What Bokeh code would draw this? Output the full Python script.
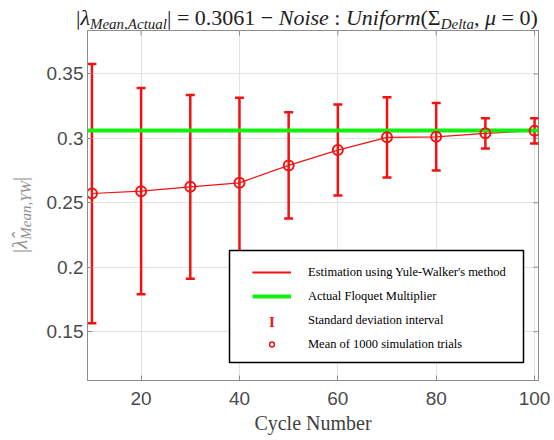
import math
from bokeh.plotting import figure
from bokeh.models import (Label, Legend, LegendItem, BoxAnnotation, FixedTicker,
                          NumeralTickFormatter, Range1d, ColumnDataSource, Div)
from bokeh.layouts import column, row
from bokeh.embed import file_html
from bokeh.resources import INLINE

# ---------------- data ----------------
cycles = [10, 20, 30, 40, 50, 60, 70, 80, 90, 100]
mean_est = [0.2572, 0.2590, 0.2624, 0.2655, 0.2790, 0.2909, 0.3008, 0.3012, 0.3039, 0.3059]
std_dev = [0.1006, 0.0800, 0.0713, 0.0661, 0.0412, 0.0353, 0.0311, 0.0262, 0.0118, 0.0098]
actual_multiplier = 0.3061

x_ticks = [20, 40, 60, 80, 100]
y_ticks = [0.15, 0.2, 0.25, 0.3, 0.35]
X_MIN, X_MAX = 9.1, 100.8
Y_MIN, Y_MAX = 0.1121, 0.3837

legend_labels = ["Estimation using Yule-Walker's method", "Actual Floquet Multiplier",
                 "Standard deviation interval", "Mean of 1000 simulation trials"]

RED = "#f21212"
GREEN = "#12f012"
AXIS_GRAY = "#8c8c8c"
TICK_TEXT = "#4a4a4a"

upper = [m + s for m, s in zip(mean_est, std_dev)]
lower = [m - s for m, s in zip(mean_est, std_dev)]
src = ColumnDataSource(dict(x=cycles, mean=mean_est, upper=upper, lower=lower))

# ---------------- layout sizes ----------------
TOTAL_W, TOTAL_H = 554, 440
TITLE_H = 29
YLAB_W = 40
FRAME_W, FRAME_H = 451, 350
PLOT_W = TOTAL_W - YLAB_W
PLOT_H = TOTAL_H - TITLE_H

p = figure(width=PLOT_W, height=PLOT_H, output_backend="svg", toolbar_location=None,
           x_range=Range1d(X_MIN, X_MAX), y_range=Range1d(Y_MIN, Y_MAX),
           min_border_left=47, min_border_right=16, min_border_top=1, min_border_bottom=60,
           title=None, background_fill_color="white", border_fill_color="white",
           outline_line_color=AXIS_GRAY, outline_line_width=1)

xt = FixedTicker(ticks=x_ticks, minor_ticks=[])
yt = FixedTicker(ticks=y_ticks, minor_ticks=[])

for ax, tk in ((p.xaxis[0], xt), (p.yaxis[0], yt)):
    ax.ticker = tk
    ax.axis_line_color = AXIS_GRAY
    ax.major_tick_line_color = AXIS_GRAY
    ax.major_tick_in = 5
    ax.major_tick_out = 0
    ax.minor_tick_line_color = None
    ax.major_label_text_font = "Liberation Sans"
    ax.major_label_text_font_size = "19px"
    ax.major_label_text_color = TICK_TEXT

p.yaxis[0].formatter = NumeralTickFormatter(format="0.[00]")
p.yaxis[0].major_label_standoff = 4
p.xaxis[0].major_label_standoff = 11
p.xaxis[0].axis_label = "Cycle Number"
p.xaxis[0].axis_label_text_font = "Liberation Serif"
p.xaxis[0].axis_label_text_font_size = "20px"
p.xaxis[0].axis_label_text_font_style = "normal"
p.xaxis[0].axis_label_text_color = "#404040"
p.xaxis[0].axis_label_standoff = 4

p.xgrid.ticker = xt
p.ygrid.ticker = yt
p.grid.grid_line_color = "#e3e3e3"
p.grid.grid_line_width = 1

# inward ticks on the top and right edges of the box (derived from tick lists / limits)
TICK_PX = 5
x_per_px = (X_MAX - X_MIN) / FRAME_W
y_per_px = (Y_MAX - Y_MIN) / FRAME_H
p.segment(x0=x_ticks, y0=[Y_MAX] * len(x_ticks), x1=x_ticks,
          y1=[Y_MAX - TICK_PX * y_per_px] * len(x_ticks), line_color=AXIS_GRAY, line_width=1)
p.segment(x0=[X_MAX] * len(y_ticks), y0=y_ticks, x1=[X_MAX - TICK_PX * x_per_px] * len(y_ticks),
          y1=y_ticks, line_color=AXIS_GRAY, line_width=1)

# ---------------- glyphs ----------------
p.segment(x0="x", y0="lower", x1="x", y1="upper", source=src, line_color=RED, line_width=2.5)
p.scatter(x="x", y="upper", source=src, marker="dash", size=9, line_color=RED, line_width=2.5)
p.scatter(x="x", y="lower", source=src, marker="dash", size=9, line_color=RED, line_width=2.5)
r_line = p.line(x="x", y="mean", source=src, line_color=RED, line_width=1.2)
r_green = p.line(x=[X_MIN, X_MAX], y=[actual_multiplier, actual_multiplier],
                 line_color=GREEN, line_width=4)
r_circ = p.scatter(x="x", y="mean", source=src, marker="circle", size=10,
                   fill_color=None, line_color=RED, line_width=2)

# legend proxies (NaN data: they draw only in the legend)
nan = float("nan")
lp_line = p.line(x=[nan], y=[nan], line_color=RED, line_width=2)
lp_std = p.scatter(x=[nan], y=[nan], marker="circle", size=0, fill_alpha=0, line_alpha=0)
lp_circ = p.scatter(x=[nan], y=[nan], marker="circle", size=5, fill_color=None,
                    line_color=RED, line_width=1.5)

# ---------------- legend ----------------
frame_left, frame_top = 87, 30            # canvas px of the frame's top-left corner
frame_bottom = frame_top + FRAME_H         # 380
box = BoxAnnotation(left=229 - frame_left, right=523 - frame_left,
                    bottom=frame_bottom - 362, top=frame_bottom - 250,
                    left_units="screen", right_units="screen",
                    top_units="screen", bottom_units="screen",
                    fill_color="white", fill_alpha=1.0,
                    line_color="black", line_width=1.5, line_alpha=1.0)
p.add_layout(box)

legend = Legend(items=[LegendItem(label=legend_labels[0], renderers=[r_line, lp_line]),
                       LegendItem(label=legend_labels[1], renderers=[r_green]),
                       LegendItem(label=legend_labels[2], renderers=[lp_std]),
                       LegendItem(label=legend_labels[3], renderers=[lp_circ])],
                location=(252 - frame_left, frame_bottom - 354),
                padding=0, spacing=4, margin=0,
                glyph_width=39, glyph_height=12, label_standoff=17, label_height=20,
                label_text_font="Liberation Serif", label_text_font_size="12.5px",
                label_text_color="black",
                border_line_color=None, background_fill_alpha=0)
p.add_layout(legend)

p.add_layout(Label(x=271.5 - frame_left, y=frame_bottom - 321, x_units="screen", y_units="screen",
                   text="I", text_align="center", text_baseline="middle",
                   text_font="Liberation Serif", text_font_style="bold",
                   text_font_size="15px", text_color=RED))

# ---------------- title (HTML with sub-scripts) ----------------
SUB = "font-size:15px;line-height:0;vertical-align:-4px;font-style:italic;"
title_html = (
    '<div style="position:relative;width:%dpx;height:%dpx;">'
    '<div style="position:absolute;left:76px;top:7px;white-space:nowrap;'
    "font-family:'Liberation Serif';font-size:22px;line-height:22px;color:#1e1e1e;\">"
    '|<i>λ</i><span style="%s">Mean,Actual</span>| = 0.3061 − <i>Noise</i> : '
    '<i>Uniform</i>(Σ<span style="%s">Delta</span>, <i>μ</i> = 0)'
    '</div></div>' % (TOTAL_W, TITLE_H, SUB, SUB)
)
title_div = Div(text=title_html, width=TOTAL_W, height=TITLE_H, margin=0)

# ---------------- y label (rotated HTML) ----------------
ylab_html = (
    '<div style="position:relative;width:%dpx;height:%dpx;">'
    '<div style="position:absolute;left:10px;top:%dpx;white-space:nowrap;'
    'transform:rotate(-90deg);transform-origin:left top;'
    "font-family:'Liberation Serif';font-size:21px;line-height:21px;color:#8f8f8f;\">"
    '|<i>λ̂</i><span style="%s">Mean,YW</span>|'
    '</div></div>' % (YLAB_W, PLOT_H, 253 - TITLE_H, SUB)
)
ylab_div = Div(text=ylab_html, width=YLAB_W, height=PLOT_H, margin=0)

layout = column(title_div, row(ylab_div, p, spacing=0), spacing=0)

open("out.html", "w").write(file_html(layout, INLINE))
